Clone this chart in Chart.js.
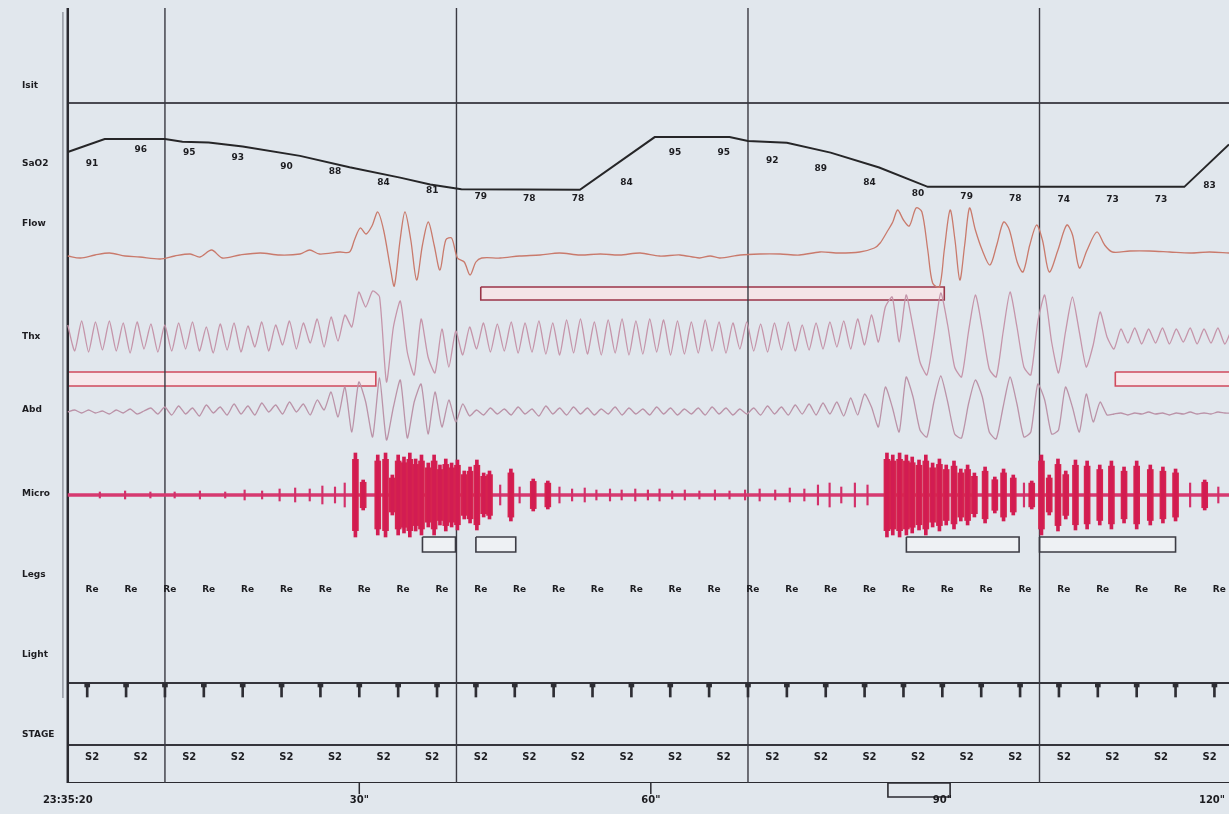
<!DOCTYPE html>
<html>
<head>
<meta charset="utf-8">
<script src="https://cdn.jsdelivr.net/npm/chart.js@4.4.1/dist/chart.umd.min.js"></script>
<style>
  html, body { margin: 0; padding: 0; background: #e1e7ed; }
  #wrap { width: 1229px; height: 814px; }
  canvas { display: block; }
</style>
</head>
<body>
<div id="wrap"><canvas id="psg" width="1229" height="814"></canvas></div>
<script>
// ---- data (time in seconds from 23:35:20) ----
const channelNames = ['Isit', 'SaO2', 'Flow', 'Thx', 'Abd', 'Micro', 'Legs', 'Light', 'STAGE'];

const timeTicks = [0, 30, 60, 90, 120];
const timeLabels = ['23:35:20', '30"', '60"', '90"', '120"'];
const gridTimes = [10, 40, 70, 100];

// SaO2 trace (%)
const satT = [0, 3.8, 10, 11.8, 14.5, 18, 23.9, 29, 34.2, 37.3, 40.5, 52.7, 60.4,
  68.1, 70.0, 74.0, 78.5, 83.5, 88.5, 114.9, 119.5];
const satV = [91.2, 96, 96, 95, 94.7, 93.2, 89.8, 85.6, 81.8, 79.3, 77.5, 77.3, 96.7,
  96.7, 95.3, 94.6, 91, 85.5, 78.4, 78.4, 94];

// SaO2 printed values
const satLabelTimes = [2.5, 7.5, 12.5, 17.5, 22.5, 27.5, 32.5, 37.5, 42.5, 47.5, 52.5, 57.5,
  62.5, 67.5, 72.5, 77.5, 82.5, 87.5, 92.5, 97.5, 102.5, 107.5, 112.5, 117.5];
const satLabels = [91, 96, 95, 93, 90, 88, 84, 81, 79, 78, 78, 84,
  95, 95, 92, 89, 84, 80, 79, 78, 74, 73, 73, 83];

// Flow (deflection, up positive)
const flowT = [0, 1.3, 2.8, 4.3, 5.9, 7.4, 9.5, 11.0, 12.6, 13.6, 14.8, 15.9, 17.7, 19.8, 21.8, 23.9, 24.9, 25.9, 28.0, 29.0,
  29.5, 30.1, 30.7, 31.3, 31.9, 32.5, 33.2, 33.6, 34.2, 34.7, 35.3, 35.9, 36.5, 37.1, 37.7, 38.3, 38.9, 39.5, 40.1, 40.8, 41.4, 42.0, 42.6,
  44.5, 46.5, 48.6, 50.6, 52.7, 54.8, 56.8, 58.9, 60.9, 63.0, 65.0, 66.1, 67.1, 69.2, 71.2, 73.3, 75.3, 77.4, 79.4, 81.5, 83.0,
  83.6, 84.3, 84.9, 85.4, 86.0, 86.6, 87.3, 87.9, 88.5, 89.0, 89.7, 90.2, 90.8, 91.3, 91.8, 92.3, 92.8, 93.4, 94.1, 94.9,
  95.6, 96.3, 96.9, 97.7, 98.3, 99.0, 99.7, 100.3, 101.0, 101.9, 102.8, 103.4, 104.1, 104.9, 105.9, 106.7, 107.5,
  109.3, 111.3, 113.4, 115.5, 117.5, 119.5];
const flowV = [-1, -3, 0, 2, -1, -2, -4, -1, 1, -2, 5, -3, 0, 2, 0, 1, 5, 1, 3, 3,
  15, 27, 21, 29, 43, 25, -13, -31, 15, 43, 15, -25, 10, 33, 10, -15, 15, 17, -3, -7, -20, -7, -3,
  -3, -1, 0, 2, 0, 1, 0, 2, -1, 0, -3, -1, -3, 0, 1, 1, 0, 3, 2, 3, 7,
  12, 23, 33, 45, 35, 29, 47, 43, 5, -28, -32, 5, 45, 15, -25, 10, 47, 25, 5, -10,
  10, 33, 25, -7, -17, 10, 30, 15, -17, 5, 30, 20, -13, 5, 23, 10, 3,
  4, 4, 3, 2, 3, 2];

// Thx and Abd: samples every 0.713 s
const waveStep = 0.713;
const thxV = [
  12, -14, 16, -15, 15, -13, 16, -14, 14, -16,
  15, -12, 13, -15, 12, -14, 14, -12, 15, -14,
  10, -16, 13, -13, 14, -15, 11, -10, 15, -14,
  12, -8, 16, -12, 14, -6, 18, -10, 20, -4,
  22, 10, 45, 30, 46, 40, -45, 10, 36, -15,
  -38, 18, -20, -36, 8, -30, 6, -18, 10, -12,
  14, -15, 13, -14, 15, -16, 14, -15, 16, -17,
  14, -18, 17, -16, 18, -17, 15, -18, 17, -16,
  18, -18, 16, -17, 18, -15, 17, -18, 16, -17,
  15, -16, 17, -14, 15, -16, 14, -12, 15, -14,
  13, -15, 14, -13, 15, -14, 12, -13, 14, -12,
  15, -10, 16, -12, 18, -8, 22, -5, 30, 40,
  -5, 42, 10, -25, -38, 0, 44, 12, -30, -40,
  5, 42, 8, -32, -40, 5, 45, 10, -30, -38,
  15, 42, -5, -36, 5, 40, 5, -30, -8, 25,
  0, -12, 8, -6, 9, -7, 8, -6, 9, -7,
  8, -5, 9, -7, 8, -6, 9, -7, 8];
const abdV = [
  0, 2, -1, 2, -1, 1, -2, 2, -1, 3,
  -2, 1, 4, -2, 5, -3, 6, -2, 4, -4,
  7, -1, 5, -3, 8, -2, 6, -3, 9, 0,
  7, -2, 10, 0, 8, -3, 12, 2, 20, -5,
  25, -20, 30, 10, -25, 34, -28, 5, 32, -26,
  10, 28, -22, 20, -15, 12, -10, 8, -4, 2,
  -3, 4, -2, 3, -3, 5, -2, 3, -4, 6,
  -2, 4, -3, 5, -2, 4, -3, 3, -2, 5,
  -3, 4, -2, 3, -3, 5, -2, 4, -3, 3,
  -2, 4, -3, 5, -2, 4, -3, 3, -2, 4,
  -3, 6, -2, 5, -3, 7, -2, 8, -3, 9,
  -2, 10, -4, 14, -3, 18, 5, -15, 25, 5,
  -20, 35, 15, -18, -25, 10, 36, 10, -22, -26,
  8, 32, 15, -20, -27, 5, 35, 8, -25, -20,
  28, 12, -22, -18, 25, 5, -20, 18, -10, 10,
  -3, -2, -1, -3, -1, -2, 0, -2, -1, -3,
  -1, -2, 0, -2, -1, -2, 0, -1, -1];

// Micro (EMG) bursts: time and half-amplitude
const microT = [3.3, 5.9, 8.5, 11.0, 13.6, 16.2, 18.2, 20.0, 21.8, 23.4, 24.9, 26.2, 27.5, 28.5,
  29.6, 30.4, 31.9, 32.7, 33.4, 34.0, 34.6, 35.2, 35.8, 36.4, 37.1, 37.7, 38.3, 38.9, 39.5, 40.1,
  40.8, 41.4, 42.1, 42.8, 43.4, 44.5, 45.6, 46.5, 47.9, 49.4,
  50.6, 51.9, 53.2, 54.4, 55.8, 57.0, 58.4, 59.7, 60.9, 62.2, 63.5, 65.0, 66.6, 68.1, 69.7, 71.2,
  72.8, 74.3, 75.8, 77.2, 78.4, 79.6, 81.0, 82.3,
  84.3, 84.9, 85.6, 86.3, 86.9, 87.6, 88.3, 89.0, 89.7, 90.4, 91.2, 91.9, 92.6, 93.3, 94.4, 95.4,
  96.3, 97.3, 98.4, 99.2, 100.2, 101.0, 101.9, 102.7, 103.7, 104.9, 106.2, 107.4, 108.7, 110.0,
  111.4, 112.7, 114.0, 115.5, 117.0, 118.4];
const microA = [3, 4, 3, 3, 4, 3, 5, 4, 6, 7, 6, 9, 8, 12,
  42, 15, 40, 42, 20, 40, 38, 42, 36, 40, 32, 40, 30, 36, 32, 35,
  24, 28, 35, 22, 24, 10, 26, 8, 16, 14,
  8, 6, 7, 5, 6, 5, 6, 5, 6, 4, 5, 4, 5, 4, 5, 6,
  5, 7, 6, 10, 12, 8, 12, 10,
  42, 40, 42, 40, 38, 35, 40, 32, 36, 30, 34, 26, 30, 22, 28, 18,
  26, 20, 12, 14, 40, 20, 36, 24, 35, 34, 30, 34, 28, 34,
  30, 28, 26, 12, 15, 8];

// scored events [start, end]
const flowEvents = [[42.5, 90.2]];
const thxEvents = [[0, 31.7], [107.8, 121]];
const microEvents = [[36.5, 39.9], [42.0, 46.1], [86.3, 97.9], [100.0, 114.0]];
const windowMarks = [[84.4, 90.8]];

const legTimes = [2.5, 6.5, 10.5, 14.5, 18.5, 22.5, 26.5, 30.5, 34.5, 38.5, 42.5, 46.5, 50.5, 54.5, 58.5,
  62.5, 66.5, 70.5, 74.5, 78.5, 82.5, 86.5, 90.5, 94.5, 98.5, 102.5, 106.5, 110.5, 114.5, 118.5];
const legLabel = 'Re';
const epochTicks = [2, 6, 10, 14, 18, 22, 26, 30, 34, 38, 42, 46, 50, 54, 58,
  62, 66, 70, 74, 78, 82, 86, 90, 94, 98, 102, 106, 110, 114, 118];
const stageTimes = [2.5, 7.5, 12.5, 17.5, 22.5, 27.5, 32.5, 37.5, 42.5, 47.5, 52.5, 57.5,
  62.5, 67.5, 72.5, 77.5, 82.5, 87.5, 92.5, 97.5, 102.5, 107.5, 112.5, 117.5];
const stages = ['S2', 'S2', 'S2', 'S2', 'S2', 'S2', 'S2', 'S2', 'S2', 'S2', 'S2', 'S2',
  'S2', 'S2', 'S2', 'S2', 'S2', 'S2', 'S2', 'S2', 'S2', 'S2', 'S2', 'S2'];

// ---- layout (rows in trace units, 0 = top) ----
const ROW = { isit: 95, flow: 247, thx: 329, abd: 404, micro: 487, legs: 582,
  stageTop: 675, stageMid: 737, axis: 775, stageText: 749, timeText: 792 };
const LABEL_ROWS = [78, 156, 216, 329, 402, 486, 567, 647, 727];
const BANDS = { flow: [279, 292], thx: [364, 378], micro: [529, 544], window: [775, 789] };
const T_END = 119.5;
const SAT_FLOOR = 77.6;
const BIG_SPIKE = 13;

const lineBase = { type: 'line', pointRadius: 0, fill: false, tension: 0, order: 1 };

function vline(t, y0, y1, color, width) {
  return { ...lineBase, data: [{ x: t, y: y0 }, { x: t, y: y1 }], borderColor: color, borderWidth: width, order: 3 };
}
function hline(yv, color, width) {
  return { ...lineBase, data: [{ x: 0, y: yv }, { x: T_END, y: yv }], borderColor: color, borderWidth: width, order: 3 };
}
function box(ev, band, border, fill) {
  const [t0, t1] = ev, [y0, y1] = band;
  return { ...lineBase, data: [{ x: t0, y: y0 }, { x: t1, y: y0 }, { x: t1, y: y1 }, { x: t0, y: y1 }, { x: t0, y: y0 }],
    borderColor: border, backgroundColor: fill, borderWidth: 1.6, fill: 'shape', order: 6 };
}
function spikes(filterFn, thickness, scale, color) {
  const pts = [];
  microT.forEach((t, i) => {
    if (filterFn(microA[i])) {
      const a = microA[i] * scale;
      pts.push({ x: t, y: [ROW.micro - a, ROW.micro + a] });
    }
  });
  return { type: 'bar', grouped: false, barThickness: thickness, borderWidth: 0, order: 1,
    backgroundColor: color, data: pts };
}

const datasets = [];
gridTimes.forEach(t => datasets.push(vline(t, 0, ROW.axis, '#3a3a42', 1.4)));
datasets.push(vline(0, 0, ROW.axis, '#2a2a30', 2.5));
datasets.push(vline(-0.5, 4, 690, '#80858e', 1.2));
datasets.push(hline(ROW.isit, '#4a4a52', 2));
datasets.push(hline(ROW.stageTop, '#35353c', 2));
datasets.push(hline(ROW.stageMid, '#35353c', 2));
datasets.push(hline(ROW.axis, '#2a2a30', 2.2));

flowEvents.forEach(ev => datasets.push(box(ev, BANDS.flow, '#9a3548', '#f4e5e8')));
thxEvents.forEach(ev => datasets.push(box(ev, BANDS.thx, '#d04a5c', '#f6e8eb')));
microEvents.forEach(ev => datasets.push(box(ev, BANDS.micro, '#3c3c44', '#eef1f4')));
windowMarks.forEach(ev => datasets.push({ ...box(ev, BANDS.window, '#2a2a30', 'rgba(0,0,0,0)'), clip: false }));

datasets.push({ ...lineBase, yAxisID: 'ySat', data: satT.map((t, i) => ({ x: t, y: satV[i] })),
  borderColor: '#262628', borderWidth: 2 });
datasets.push({ ...lineBase, data: flowT.map((t, i) => ({ x: t, y: ROW.flow - flowV[i] })),
  borderColor: '#c97a6c', borderWidth: 1.3, tension: 0.3 });
datasets.push({ ...lineBase, data: thxV.map((v, i) => ({ x: i * waveStep, y: ROW.thx - v })),
  borderColor: '#c595aa', borderWidth: 1.3, tension: 0.2 });
datasets.push({ ...lineBase, data: abdV.map((v, i) => ({ x: i * waveStep, y: ROW.abd - v })),
  borderColor: '#bb93a8', borderWidth: 1.3, tension: 0.2 });
datasets.push(Object.assign(hline(ROW.micro, '#d63a70', 3.5), { order: 2 }));
// EMG bursts: a narrow full-height core over a wider body gives a spindle shape
datasets.push(spikes(a => a >= BIG_SPIKE, 3, 1, '#d21c52'));
datasets.push(spikes(a => a >= BIG_SPIKE, 6, 0.85, '#d6244f'));
datasets.push(spikes(a => a < BIG_SPIKE, 1.5, 1, '#d3306a'));
datasets.push({ type: 'bar', grouped: false, barThickness: 2, borderWidth: 0, order: 1,
  backgroundColor: '#2e2e34',
  data: epochTicks.map(t => ({ x: t, y: [ROW.stageTop, ROW.stageTop + 14] })) });
datasets.push({ type: 'bar', grouped: false, barThickness: 5, borderWidth: 0, order: 1,
  backgroundColor: '#2e2e34',
  data: epochTicks.map(t => ({ x: t, y: [ROW.stageTop, ROW.stageTop + 4] })) });

const textPlugin = {
  id: 'psgText',
  afterDatasetsDraw(chart) {
    const { ctx, chartArea, scales } = chart;
    const x = scales.x, y = scales.y, ySat = scales.ySat;
    ctx.save();
    ctx.fillStyle = '#1c1c20';
    ctx.textBaseline = 'middle';

    ctx.textAlign = 'left';
    ctx.font = 'bold 9px "DejaVu Sans", sans-serif';
    channelNames.forEach((name, i) => {
      ctx.fillText(name, chartArea.left - 38, y.getPixelForValue(LABEL_ROWS[i]));
    });

    ctx.textAlign = 'center';
    satLabelTimes.forEach((t, i) => {
      const v = Math.max(satLabels[i], SAT_FLOOR);
      ctx.fillText(String(satLabels[i]), x.getPixelForValue(t), ySat.getPixelForValue(v) + 11);
    });
    legTimes.forEach(t => ctx.fillText(legLabel, x.getPixelForValue(t), y.getPixelForValue(ROW.legs)));
    ctx.font = 'bold 10px "DejaVu Sans", sans-serif';
    stageTimes.forEach((t, i) => ctx.fillText(stages[i], x.getPixelForValue(t), y.getPixelForValue(ROW.stageText)));

    timeTicks.forEach((t, i) => {
      const px = Math.min(x.getPixelForValue(t), chartArea.right - 17);
      ctx.fillText(timeLabels[i], px, y.getPixelForValue(ROW.timeText));
    });

    ctx.strokeStyle = '#2a2a30';
    ctx.lineWidth = 1.5;
    [30, 60].forEach(t => {
      const px = x.getPixelForValue(t);
      ctx.beginPath();
      ctx.moveTo(px, y.getPixelForValue(ROW.axis));
      ctx.lineTo(px, y.getPixelForValue(ROW.axis + 11));
      ctx.stroke();
    });
    ctx.restore();
  }
};

new Chart(document.getElementById('psg'), {
  type: 'line',
  data: { datasets },
  options: {
    responsive: false,
    animation: false,
    devicePixelRatio: 1,
    events: [],
    layout: { padding: { left: 60, right: 0, top: 8, bottom: 31 } },
    plugins: { legend: { display: false }, tooltip: { enabled: false } },
    scales: {
      x: { type: 'linear', min: -0.8, max: T_END, display: false, offset: false },
      y: { type: 'linear', min: 0, max: 775, reverse: true, display: false },
      ySat: { type: 'linear', position: 'left', min: -140.77, max: 144.16, display: false }
    }
  },
  plugins: [textPlugin]
});
</script>
</body>
</html>
